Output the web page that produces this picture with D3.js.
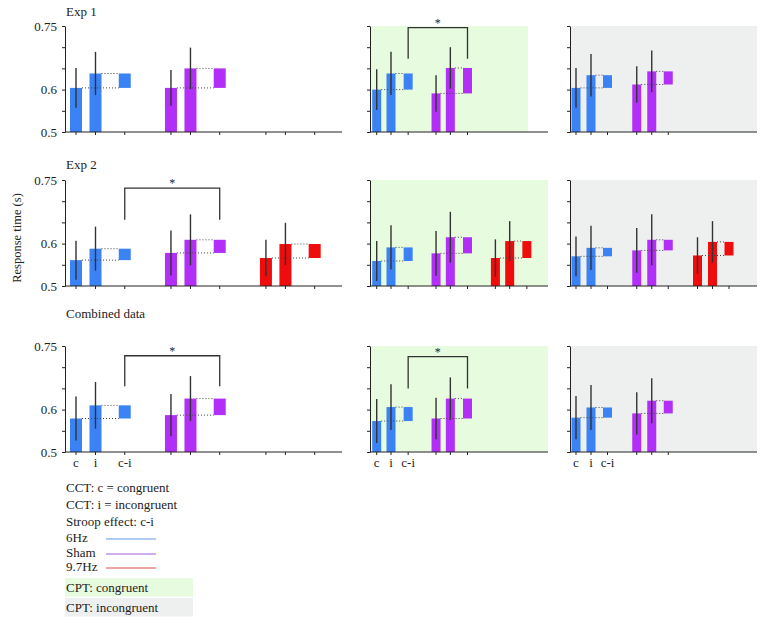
<!DOCTYPE html>
<html lang="en">
<head>
  <meta charset="utf-8">
  <title>Response time</title>
  <script src="https://cdn.jsdelivr.net/npm/d3@7/dist/d3.min.js"></script>
  <style>
    body { margin: 0; background: #fff; }
    text { font-family: "Liberation Serif", "DejaVu Serif", serif; fill: #222; }
  </style>
</head>
<body>
  <script>
    // rows of the figure and the three tasks per condition
    var rowTitles = ["Exp 1", "Exp 2", "Combined data"];
    var conditions = ["6Hz", "Sham", "9.7Hz"];
    var kinds = ["c", "i", "c-i"];
    var yTicks = [0.5, 0.55, 0.6, 0.65, 0.7, 0.75];
    var yLabels = [0.5, 0.6, 0.75];

    // values per panel [CCT, CPT congruent, CPT incongruent] -> per condition
    var exp1Cong = [[0.604, 0.604], [0.600, 0.591], [0.604, 0.612]];
    var exp1Incong = [[0.638, 0.650], [0.638, 0.651], [0.634, 0.643]];
    var exp1ErrC = [[0.047, 0.042], [0.048, 0.043], [0.047, 0.043]];
    var exp1ErrI = [[0.051, 0.049], [0.051, 0.049], [0.050, 0.049]];

    var exp2Cong = [[0.561, 0.578, 0.566], [0.559, 0.577, 0.566], [0.570, 0.584, 0.572]];
    var exp2Incong = [[0.588, 0.609, 0.599], [0.591, 0.615, 0.606], [0.590, 0.609, 0.604]];
    var exp2ErrC = [[0.046, 0.053, 0.043], [0.047, 0.053, 0.044], [0.047, 0.053, 0.043]];
    var exp2ErrI = [[0.052, 0.060, 0.050], [0.052, 0.060, 0.047], [0.052, 0.060, 0.049]];

    var combCong = [[0.579, 0.587], [0.573, 0.579], [0.581, 0.591]];
    var combIncong = [[0.610, 0.626], [0.606, 0.626], [0.605, 0.621]];
    var combErrC = [[0.052, 0.050], [0.052, 0.049], [0.051, 0.050]];
    var combErrI = [[0.055, 0.053], [0.054, 0.050], [0.053, 0.053]];

    // significance brackets: row, panel, top value, leg value
    var brackets = [[0, 1, 0.746, 0.673], [1, 0, 0.731, 0.656], [2, 0, 0.727, 0.655], [2, 1, 0.725, 0.650]];

    var cong = [exp1Cong, exp2Cong, combCong];
    var incong = [exp1Incong, exp2Incong, combIncong];
    var errC = [exp1ErrC, exp2ErrC, combErrC];
    var errI = [exp1ErrI, exp2ErrI, combErrI];

    var colors = ["#3b82f4", "#b12ff6", "#ee0c0c"];
    var legendColors = ["#5f97e6", "#a55bd6", "#e04a4a"];

    // layout
    var rowTop = [26, 180, 346];
    var rowH = 106;
    var panels = [
      { x0: 65, x1: 342, off: 11, unit: 19.5, ci: 2.5, group: 4.87, bw: 12, bg: null },
      { x0: 370, x1: 548, off: 6.7, unit: 14.3, ci: 2.2, group: 4.15, bw: 9, bg: "#e7fbdf" },
      { x0: 570, x1: 757, off: 6, unit: 15, ci: 2.1, group: 4.05, bw: 9, bg: "#eef0ef" }
    ];

    var svg = d3.select("body").append("svg")
      .attr("width", 766)
      .attr("height", 626);

    function slot(p, g, k) {
      return g * p.group + [0, 1, p.ci][k];
    }

    rowTitles.forEach(function (title, r) {
      svg.append("text")
        .attr("x", 66)
        .attr("y", [15.5, 169, 318][r])
        .attr("font-size", 13)
        .text(title);

      panels.forEach(function (p, c) {
        var y = d3.scaleLinear().domain([0.5, 0.75]).range([rowTop[r] + rowH, rowTop[r]]);
        var x = d3.scaleLinear().domain([0, 1]).range([p.x0 + p.off, p.x0 + p.off + p.unit]);
        var g = svg.append("g");
        var nCond = cong[r][c].length;

        if (p.bg) {
          var bgEnd = (r === 0 && c === 1) ? 528 : p.x1;
          g.append("rect")
            .attr("x", p.x0)
            .attr("y", y(0.75))
            .attr("width", bgEnd - p.x0)
            .attr("height", y(0.5) - y(0.75))
            .attr("fill", p.bg);
        }

        var items = d3.range(nCond).map(function (k) {
          return { g: k, c: cong[r][c][k], i: incong[r][c][k], ec: errC[r][c][k], ei: errI[r][c][k] };
        });

        var grp = g.selectAll(".cond").data(items).enter().append("g").attr("class", "cond");

        // c bar and i bar
        grp.append("rect")
          .attr("x", function (d) { return x(slot(p, d.g, 0)) - p.bw / 2; })
          .attr("y", function (d) { return y(d.c); })
          .attr("width", p.bw)
          .attr("height", function (d) { return y(0.5) - y(d.c); })
          .attr("fill", function (d) { return colors[d.g]; });
        grp.append("rect")
          .attr("x", function (d) { return x(slot(p, d.g, 1)) - p.bw / 2; })
          .attr("y", function (d) { return y(d.i); })
          .attr("width", p.bw)
          .attr("height", function (d) { return y(0.5) - y(d.i); })
          .attr("fill", function (d) { return colors[d.g]; });
        // c-i floating box
        grp.append("rect")
          .attr("x", function (d) { return x(slot(p, d.g, 2)) - p.bw / 2; })
          .attr("y", function (d) { return y(Math.max(d.c, d.i)); })
          .attr("width", p.bw)
          .attr("height", function (d) { return Math.abs(y(d.c) - y(d.i)); })
          .attr("fill", function (d) { return colors[d.g]; });

        // error bars
        grp.append("line")
          .attr("x1", function (d) { return x(slot(p, d.g, 0)); })
          .attr("x2", function (d) { return x(slot(p, d.g, 0)); })
          .attr("y1", function (d) { return y(d.c + d.ec); })
          .attr("y2", function (d) { return y(d.c - d.ec); })
          .attr("stroke", "#333").attr("stroke-width", 1.4);
        grp.append("line")
          .attr("x1", function (d) { return x(slot(p, d.g, 1)); })
          .attr("x2", function (d) { return x(slot(p, d.g, 1)); })
          .attr("y1", function (d) { return y(d.i + d.ei); })
          .attr("y2", function (d) { return y(d.i - d.ei); })
          .attr("stroke", "#333").attr("stroke-width", 1.4);

        // dotted guides to the c-i box
        grp.append("line")
          .attr("x1", function (d) { return x(slot(p, d.g, 0)) + p.bw / 2; })
          .attr("x2", function (d) { return x(slot(p, d.g, 2)) - p.bw / 2; })
          .attr("y1", function (d) { return y(d.c); })
          .attr("y2", function (d) { return y(d.c); })
          .attr("stroke", "#444").attr("stroke-width", 1).attr("stroke-dasharray", "1,2");
        grp.append("line")
          .attr("x1", function (d) { return x(slot(p, d.g, 1)) + p.bw / 2; })
          .attr("x2", function (d) { return x(slot(p, d.g, 2)) - p.bw / 2; })
          .attr("y1", function (d) { return y(d.i); })
          .attr("y2", function (d) { return y(d.i); })
          .attr("stroke", "#444").attr("stroke-width", 1).attr("stroke-dasharray", "1,2");

        // y axis
        var yAxis = d3.axisLeft(y)
          .tickValues(yTicks)
          .tickSize(3)
          .tickSizeOuter(0)
          .tickFormat(function (v) {
            if (c !== 0) return "";
            return yLabels.some(function (l) { return Math.abs(l - v) < 1e-9; }) ? String(v) : "";
          });
        var ya = g.append("g")
          .attr("transform", "translate(" + p.x0 + ",0)")
          .call(yAxis);
        ya.selectAll("text").attr("font-size", 13).attr("dx", -2)
          .style("font-family", "'Liberation Serif', serif").attr("fill", "#222");
        ya.selectAll("path, line").attr("stroke", "#222");

        // x axis line and ticks
        var tickCount = c === 0 ? 3 : nCond;
        var xTicks = [];
        d3.range(tickCount).forEach(function (gi) {
          kinds.forEach(function (k, ki) { xTicks.push(slot(p, gi, ki)); });
        });
        g.append("line")
          .attr("x1", p.x0).attr("x2", p.x1)
          .attr("y1", y(0.5)).attr("y2", y(0.5))
          .attr("stroke", "#222").attr("stroke-width", 1);
        g.selectAll(".xt").data(xTicks).enter().append("line")
          .attr("x1", function (d) { return x(d); })
          .attr("x2", function (d) { return x(d); })
          .attr("y1", y(0.5)).attr("y2", y(0.5) + 3)
          .attr("stroke", "#222");

        if (r === 2) {
          g.selectAll(".xl").data(kinds).enter().append("text")
            .attr("x", function (d, ki) { return x(slot(p, 0, ki)); })
            .attr("y", 467)
            .attr("text-anchor", "middle")
            .attr("font-size", 13)
            .text(function (d) { return d; });
        }

        // significance bracket
        brackets.filter(function (b) { return b[0] === r && b[1] === c; }).forEach(function (b) {
          var xa = x(slot(p, 0, 2));
          var xb = x(slot(p, 1, 2));
          g.append("path")
            .attr("d", "M" + xa + "," + y(b[3]) + "V" + y(b[2]) + "H" + xb + "V" + y(b[3]))
            .attr("fill", "none")
            .attr("stroke", "#333")
            .attr("stroke-width", 1.3);
          g.append("text")
            .attr("x", (xa + xb) / 2)
            .attr("y", y(b[2]) - 1)
            .attr("text-anchor", "middle")
            .attr("font-size", 12)
            .text("*");
        });
      });
    });

    // y axis title
    svg.append("text")
      .attr("transform", "translate(21,238) rotate(-90)")
      .attr("text-anchor", "middle")
      .attr("font-size", 12.5)
      .text("Response time (s)");

    // legend
    var legendText = ["CCT: c = congruent", "CCT: i = incongruent", "Stroop effect: c-i"];
    var legendY = [492, 509, 526];
    svg.selectAll(".lt").data(legendText).enter().append("text")
      .attr("x", 66)
      .attr("y", function (d, k) { return legendY[k]; })
      .attr("font-size", 13)
      .text(function (d) { return d; });

    var condY = [542, 557, 571];
    conditions.forEach(function (name, k) {
      svg.append("text")
        .attr("x", 66)
        .attr("y", condY[k])
        .attr("font-size", 13)
        .text(name);
      svg.append("line")
        .attr("x1", 106).attr("x2", 156)
        .attr("y1", condY[k] - 3).attr("y2", condY[k] - 3)
        .attr("stroke", legendColors[k])
        .attr("stroke-width", 1);
    });

    var boxes = [["CPT: congruent", "#e7fbdf"], ["CPT: incongruent", "#eef0ef"]];
    boxes.forEach(function (bx, k) {
      svg.append("rect")
        .attr("x", 65).attr("y", 578 + k * 20)
        .attr("width", 128).attr("height", 18.5)
        .attr("fill", bx[1]);
      svg.append("text")
        .attr("x", 66)
        .attr("y", 592 + k * 20)
        .attr("font-size", 13)
        .text(bx[0]);
    });
  </script>
</body>
</html>
